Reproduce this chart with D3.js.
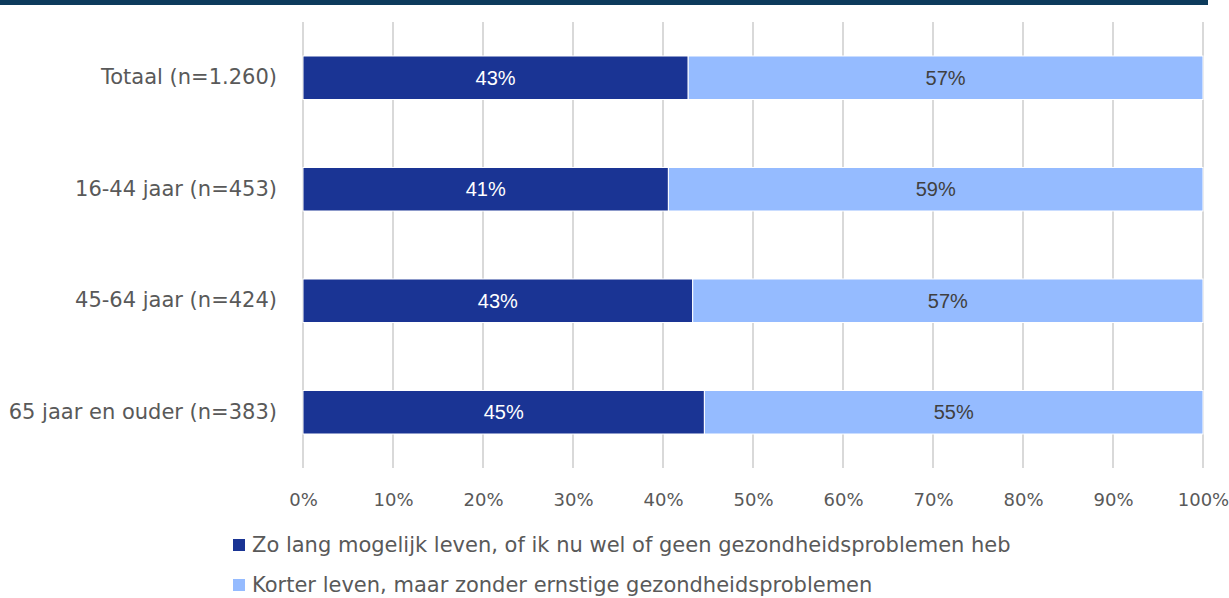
<!DOCTYPE html>
<html>
<head>
<meta charset="utf-8">
<script src="https://cdn.jsdelivr.net/npm/d3@7"></script>
<style>
  html, body { margin: 0; padding: 0; background: #fff; }
  svg { display: block; }
</style>
</head>
<body>
<svg id="chart" width="1229" height="598"></svg>
<script>
// Survey groups and answer shares (percent)
const categories = ["Totaal (n=1.260)", "16-44 jaar (n=453)", "45-64 jaar (n=424)", "65 jaar en ouder (n=383)"];
const seriesNames = [
  "Zo lang mogelijk leven, of ik nu wel of geen gezondheidsproblemen heb",
  "Korter leven, maar zonder ernstige gezondheidsproblemen"
];
const langLeven = [42.8, 40.6, 43.3, 44.6];
const korterLeven = [57.2, 59.4, 56.7, 55.4];
const tickValues = [0, 10, 20, 30, 40, 50, 60, 70, 80, 90, 100];

const colors = ["#1a3494", "#95bbff"];
const labelColors = ["#ffffff", "#404040"];
const font = "'DejaVu Sans', 'Open Sans', sans-serif";

const svg = d3.select("#chart");
const W = 1229, H = 598;
const margin = { left: 303, right: 26, top: 22, bottom: 130 };

// header rule
svg.append("rect").attr("x", 0).attr("y", 0).attr("width", 1208).attr("height", 5).attr("fill", "#0d3b5c");

const x = d3.scaleLinear().domain([0, 100]).range([margin.left, W - margin.right]);
const y = d3.scaleBand().domain(categories).range([margin.top, H - margin.bottom]).paddingInner(0.61).paddingOuter(0.305);

// vertical gridlines
svg.append("g").selectAll("line").data(tickValues).join("line")
  .attr("x1", d => x(d)).attr("x2", d => x(d))
  .attr("y1", margin.top).attr("y2", H - margin.bottom)
  .attr("stroke", "#d9d9d9").attr("stroke-width", 2);

// stacked data
const rows = categories.map((c, i) => ({ cat: c, vals: [langLeven[i], korterLeven[i]] }));
const stackRows = rows.map(r => {
  let acc = 0;
  return r.vals.map((v, k) => { const s = { cat: r.cat, k, x0: acc, x1: acc + v, v }; acc += v; return s; });
}).flat();

svg.append("g").selectAll("rect").data(stackRows).join("rect")
  .attr("x", d => x(d.x0))
  .attr("y", d => y(d.cat))
  .attr("width", d => x(d.x1) - x(d.x0))
  .attr("height", y.bandwidth())
  .attr("fill", d => colors[d.k])
  .attr("stroke", "#ffffff").attr("stroke-width", 1);

svg.append("g").selectAll("text").data(stackRows).join("text")
  .attr("x", d => (x(d.x0) + x(d.x1)) / 2)
  .attr("y", d => y(d.cat) + y.bandwidth() / 2)
  .attr("dy", "0.36em")
  .attr("text-anchor", "middle")
  .attr("font-family", "'Liberation Sans', Arial, sans-serif")
  .attr("font-size", 20)
  .attr("fill", d => labelColors[d.k])
  .text(d => Math.round(d.v) + "%");

// category axis
const yAxis = svg.append("g").attr("transform", `translate(${margin.left - 26},0)`)
  .call(d3.axisLeft(y).tickSize(0).tickPadding(0));
yAxis.select(".domain").remove();
yAxis.selectAll("text").attr("font-family", font).attr("font-size", 21).attr("fill", "#595959");

// percentage axis
const xAxis = svg.append("g").attr("transform", `translate(0,${H - margin.bottom})`)
  .call(d3.axisBottom(x).tickValues(tickValues).tickFormat(d => d + "%").tickSize(0).tickPadding(25));
xAxis.select(".domain").remove();
xAxis.selectAll("text").attr("font-family", font).attr("font-size", 18).attr("fill", "#595959");

// legend
const legend = svg.append("g").selectAll("g").data(seriesNames).join("g")
  .attr("transform", (d, i) => `translate(233,${545 + i * 40})`);
legend.append("rect").attr("x", 0).attr("y", -6).attr("width", 12).attr("height", 12)
  .attr("fill", (d, i) => colors[i]);
legend.append("text").attr("x", 19).attr("y", 0).attr("dy", "0.35em")
  .attr("font-family", font).attr("font-size", 21).attr("fill", "#595959")
  .text(d => d);
</script>
</body>
</html>
